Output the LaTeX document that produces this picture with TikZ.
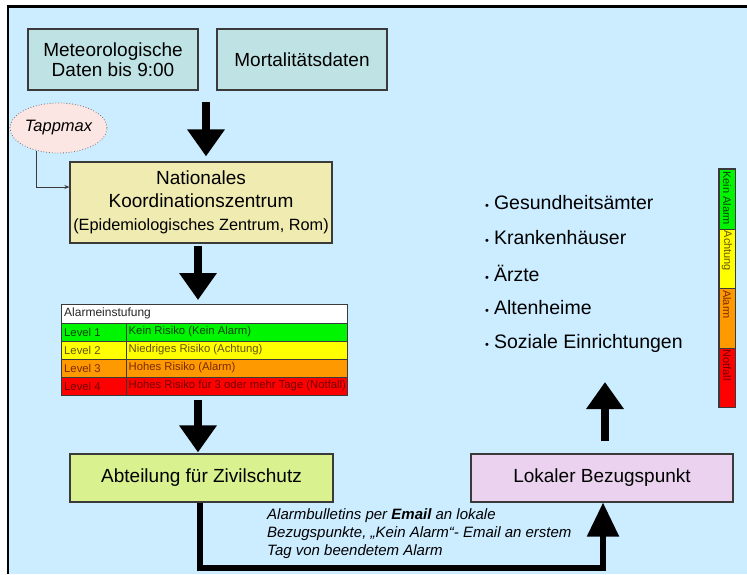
\documentclass[tikz,border=0pt]{standalone}
\usepackage{fontspec}
\setmainfont{Liberation Sans}
\usetikzlibrary{arrows.meta,shapes.geometric}
\definecolor{cBg}{HTML}{CCECFF}
\definecolor{cMet}{HTML}{BFE3E4}
\definecolor{cNat}{HTML}{EFEBB1}
\definecolor{cAbt}{HTML}{D9F18E}
\definecolor{cLok}{HTML}{EBD2EF}
\definecolor{cTap}{HTML}{FBE6E3}
\definecolor{cBorder}{HTML}{3A3A3A}
\definecolor{cGreen}{HTML}{00F500}
\definecolor{cYellow}{HTML}{FFFF00}
\definecolor{cOrange}{HTML}{FF9900}
\definecolor{cRed}{HTML}{FF0000}
\definecolor{tGreen}{HTML}{064006}
\definecolor{tYellow}{HTML}{665200}
\definecolor{tOrange}{HTML}{7A2A00}
\definecolor{tRed}{HTML}{700000}
\begin{document}
\begin{tikzpicture}[x=1pt,y=-1pt,
  box/.style={draw=cBorder, line width=1.2pt, rectangle, inner sep=0pt, align=center,
    font=\fontsize{19}{20.5}\selectfont},
  bigarrow/.style={line width=8pt, -{Triangle[width=36pt,length=27pt]}},
  botarrow/.style={line width=5.5pt, line join=miter, -{Triangle[width=31pt,length=34pt]}},
  tapst/.style={ellipse, draw=black!55, dotted, line width=0.8pt, fill=cTap,
    minimum width=97pt, minimum height=50pt, inner sep=0pt, font=\fontsize{16.5}{16.5}\selectfont\itshape},
  tapline/.style={draw=cBorder, line width=0.9pt, -{Stealth[length=5pt,width=4pt]}},
  trow/.style={rectangle, draw=cBorder, line width=0.7pt, minimum width=286pt, inner sep=0pt},
  ttext/.style={anchor=west, inner sep=0pt, font=\fontsize{11.3}{11.3}\selectfont},
  bullet/.style={anchor=west, inner sep=0pt, font=\fontsize{19.5}{19.5}\selectfont},
  barseg/.style={rectangle, draw=cBorder, line width=0.8pt, minimum width=16pt, minimum height=59.5pt, inner sep=0pt},
  bartext/.style={rotate=-90, anchor=west, inner sep=0pt, font=\fontsize{11}{11}\selectfont}
]
% frame and background
\useasboundingbox (0,0) rectangle (747,574);
\fill[white] (0,0) rectangle (747,574);
\fill[cBg] (8,6.5) rectangle (747,574);
\draw[black, line width=2.5pt, line join=miter] (8,574) -- (8,6.5) -- (747,6.5);

% top boxes
\node[box, fill=cMet, minimum width=170pt, minimum height=61pt] (met) at (113,59.5)
  {Meteorologische\\Daten bis 9:00};
\node[box, fill=cMet, minimum width=170pt, minimum height=61pt] (mor) at (302,59.5)
  {Mortalitätsdaten};

% national centre
\node[box, fill=cNat, minimum width=262pt, minimum height=81pt,
  font=\fontsize{19}{23}\selectfont] (nat) at (201,202.5)
  {Nationales\\Koordinationszentrum\\{\fontsize{16.3}{23}\selectfont(Epidemiologisches Zentrum, Rom)}};

% Tappmax
\node[tapst] (tap) at (58.5,128) {Tappmax};
\draw[tapline] (tap.225) |- ([yshift=15.5pt]nat.west);

% arrow 1
\coordinate (a1s) at (206,102);
\draw[bigarrow, shorten >=5pt] (a1s) -- (a1s |- nat.north);

% table
\node[trow, fill=white, minimum height=19pt, anchor=north west] (th) at (61,304) {};
\node[trow, fill=cGreen, minimum height=18pt, anchor=north west] (t1) at (61,323) {};
\node[trow, fill=cYellow, minimum height=18pt, anchor=north west] (t2) at (61,341) {};
\node[trow, fill=cOrange, minimum height=18pt, anchor=north west] (t3) at (61,359) {};
\node[trow, fill=cRed, minimum height=18pt, anchor=north west] (t4) at (61,377) {};
\draw[cBorder, line width=0.7pt] (126,323) -- (126,395);
\draw[cBorder, line width=1pt] (th.north west) rectangle (t4.south east);
\node[ttext, text=black!85, font=\fontsize{12}{12}\selectfont] at (64,313.5) {Alarmeinstufung};
\node[ttext, text=tGreen] at (64,332) {Level 1};
\node[ttext, text=tGreen] at (128.5,332) {Kein Risiko (Kein Alarm)};
\node[ttext, text=tYellow] at (64,350) {Level 2};
\node[ttext, text=tYellow] at (128.5,350) {Niedriges Risiko (Achtung)};
\node[ttext, text=tOrange] at (64,368) {Level 3};
\node[ttext, text=tOrange] at (128.5,368) {Hohes Risiko (Alarm)};
\node[ttext, text=tRed] at (64,386) {Level 4};
\node[ttext, text=tRed] at (128.5,386) {Hohes Risiko für 3 oder mehr Tage (Notfall)};

% arrow 2 and 3
\coordinate (ax) at (198,0);
\draw[bigarrow, shorten <=2pt, shorten >=4pt] (ax |- nat.south) -- (ax |- th.north);

% lower boxes
\node[box, fill=cAbt, minimum width=263pt, minimum height=48pt] (abt) at (201.5,478)
  {Abteilung für Zivilschutz};
\node[box, fill=cLok, minimum width=262pt, minimum height=48pt] (lok) at (602,478)
  {Lokaler Bezugspunkt};

\draw[bigarrow, shorten <=4pt, shorten >=1pt] (ax |- t4.south) -- (ax |- abt.north);

% bottom connector
\coordinate (b1) at (200,568);
\draw[botarrow] (abt.south -| b1) -- (b1) -| ([xshift=1pt]lok.south);
\node[anchor=north west, align=left, inner sep=0pt,
  font=\fontsize{15}{18}\selectfont\itshape] (lbl) at (267,508)
  {Alarmbulletins per \textbf{Email} an lokale\\
   Bezugspunkte, „Kein Alarm“- Email an erstem\\
   Tag von beendetem Alarm};

% up arrow
\coordinate (upx) at (605,0);
\coordinate (upend) at (605,382);
\draw[bigarrow, shorten <=12pt] (lok.north -| upx) -- (upend);

% bullet list
\node[bullet] (g1) at (485,203) {{\fontsize{11}{11}\selectfont•}\hspace{5pt}Gesundheitsämter};
\node[bullet] (g2) at (485,238) {{\fontsize{11}{11}\selectfont•}\hspace{5pt}Krankenhäuser};
\node[bullet] (g3) at (485,273) {{\fontsize{11}{11}\selectfont•}\hspace{5pt}Ärzte};
\node[bullet] (g4) at (485,307.5) {{\fontsize{11}{11}\selectfont•}\hspace{5pt}Altenheime};
\node[bullet] (g5) at (485,343) {{\fontsize{11}{11}\selectfont•}\hspace{5pt}Soziale Einrichtungen};

% colour bar
\node[barseg, fill=cGreen, anchor=north] (s1) at (727,169) {};
\node[barseg, fill=cYellow, anchor=north] (s2) at (727,228.5) {};
\node[barseg, fill=cOrange, anchor=north] (s3) at (727,288) {};
\node[barseg, fill=cRed, anchor=north] (s4) at (727,347.5) {};
\draw[cBorder, line width=1.2pt] (s1.north west) rectangle (s4.south east);
\node[bartext, text=tGreen] at ([yshift=-2pt]s1.north) {Kein Alarm};
\node[bartext, text=tYellow] at ([yshift=-2pt]s2.north) {Achtung};
\node[bartext, text=tOrange] at ([yshift=-2pt]s3.north) {Alarm};
\node[bartext, text=tRed] at ([yshift=-2pt]s4.north) {Notfall};
\end{tikzpicture}
\end{document}
